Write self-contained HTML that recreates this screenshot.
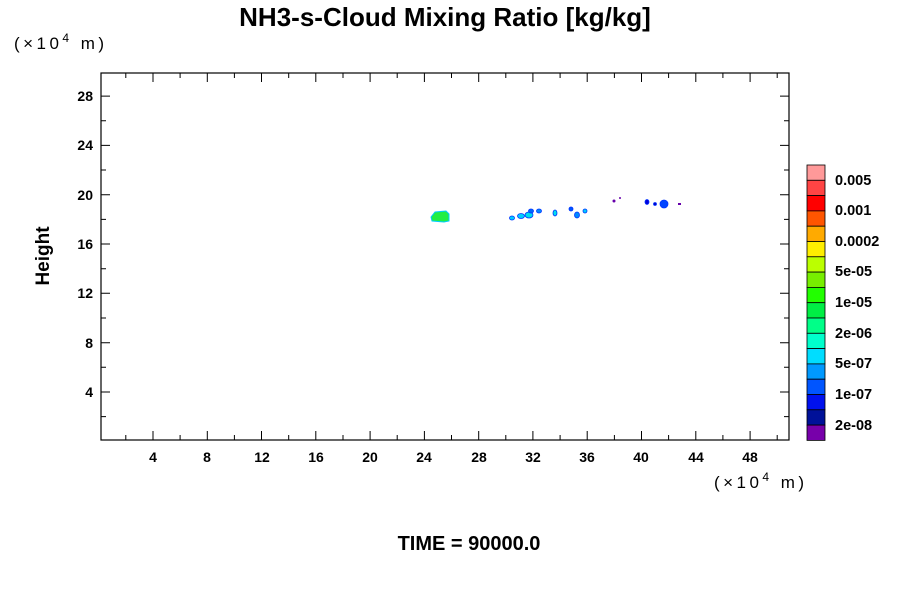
<!DOCTYPE html>
<html><head><style>body{margin:0;background:#fff}</style></head><body>
<svg id="s" width="900" height="600" xmlns="http://www.w3.org/2000/svg" font-family="Liberation Sans, sans-serif">
<rect width="900" height="600" fill="#fff"/>
<text x="445" y="26" text-anchor="middle" font-size="26" font-weight="bold">NH3-s-Cloud Mixing Ratio [kg/kg]</text>
<text x="14" y="49" font-size="17" textLength="90">(×10<tspan dy="-7" font-size="12">4</tspan><tspan dy="7"> m)</tspan></text>
<text x="714" y="488" font-size="17" textLength="90">(×10<tspan dy="-7" font-size="12">4</tspan><tspan dy="7"> m)</tspan></text>
<text x="469" y="550" text-anchor="middle" font-size="20" font-weight="bold">TIME = 90000.0</text>
<text transform="translate(49,256) rotate(-90)" text-anchor="middle" font-size="19" font-weight="bold">Height</text>
<rect x="101" y="73" width="688" height="367" fill="none" stroke="#000" stroke-width="1.2"/>
<g id="ticks" stroke="#000" stroke-width="1"></g>
<g font-size="14" font-weight="bold" text-anchor="end">
<text x="93" y="101">28</text><text x="93" y="150">24</text><text x="93" y="200">20</text><text x="93" y="249">16</text><text x="93" y="298">12</text><text x="93" y="348">8</text><text x="93" y="397">4</text>
</g>
<g font-size="14" font-weight="bold" text-anchor="middle">
<text x="153" y="462">4</text><text x="207" y="462">8</text><text x="262" y="462">12</text><text x="316" y="462">16</text><text x="370" y="462">20</text><text x="424" y="462">24</text><text x="479" y="462">28</text><text x="533" y="462">32</text><text x="587" y="462">36</text><text x="641" y="462">40</text><text x="696" y="462">44</text><text x="750" y="462">48</text>
</g>
<path d="M431,217 L435,212 L446,211 L449,214 L449,221 L444,222 L432,221 Z" fill="#22ee44" stroke="#00ccff" stroke-width="1"/>
<g stroke="#0033ff" stroke-width="0.8">
<ellipse cx="512" cy="218" rx="2.5" ry="2" fill="#00ccff"/>
<ellipse cx="521" cy="216" rx="3.5" ry="2.5" fill="#00ccff"/>
<ellipse cx="529" cy="215" rx="4" ry="3" fill="#00ddee"/>
<ellipse cx="531" cy="211" rx="2.5" ry="2" fill="#0066ff"/>
<ellipse cx="539" cy="211" rx="2.5" ry="2" fill="#0088ff"/>
<ellipse cx="555" cy="213" rx="2" ry="3" fill="#00ddee"/>
<ellipse cx="571" cy="209" rx="2" ry="2" fill="#0055ff"/>
<ellipse cx="577" cy="215" rx="2.5" ry="3" fill="#0088ff"/>
<ellipse cx="585" cy="211" rx="2" ry="2" fill="#00ccff"/>
<ellipse cx="647" cy="202" rx="2" ry="2.5" fill="#0000dd"/>
<ellipse cx="655" cy="204" rx="1.5" ry="1.5" fill="#0000cc"/>
<ellipse cx="664" cy="204" rx="4" ry="4" fill="#0044ff"/>
</g>
<circle cx="614" cy="201" r="1.5" fill="#6600aa"/><circle cx="620" cy="198" r="1" fill="#6600aa"/><rect x="678" y="203" width="3" height="2" fill="#6600aa"/>
<g stroke="#000" stroke-width="0.8">
<rect x="807" y="165" width="18" height="15.3" fill="#ff9999"/>
<rect x="807" y="180.3" width="18" height="15.3" fill="#ff4444"/>
<rect x="807" y="195.6" width="18" height="15.3" fill="#ff0000"/>
<rect x="807" y="210.9" width="18" height="15.3" fill="#ff5500"/>
<rect x="807" y="226.2" width="18" height="15.3" fill="#ffaa00"/>
<rect x="807" y="241.5" width="18" height="15.3" fill="#ffee00"/>
<rect x="807" y="256.8" width="18" height="15.3" fill="#bbff00"/>
<rect x="807" y="272.1" width="18" height="15.3" fill="#77ee00"/>
<rect x="807" y="287.4" width="18" height="15.3" fill="#22ff00"/>
<rect x="807" y="302.7" width="18" height="15.3" fill="#00ee44"/>
<rect x="807" y="318" width="18" height="15.3" fill="#00ff88"/>
<rect x="807" y="333.3" width="18" height="15.3" fill="#00ffcc"/>
<rect x="807" y="348.6" width="18" height="15.3" fill="#00ddff"/>
<rect x="807" y="363.9" width="18" height="15.3" fill="#0099ff"/>
<rect x="807" y="379.2" width="18" height="15.3" fill="#0055ff"/>
<rect x="807" y="394.5" width="18" height="15.3" fill="#0011ee"/>
<rect x="807" y="409.8" width="18" height="15.3" fill="#001199"/>
<rect x="807" y="425.1" width="18" height="15.3" fill="#7700aa"/>
</g>
<g font-size="14.5" font-weight="bold">
<text x="835" y="185">0.005</text><text x="835" y="215">0.001</text><text x="835" y="246">0.0002</text><text x="835" y="276">5e-05</text><text x="835" y="307">1e-05</text><text x="835" y="338">2e-06</text><text x="835" y="368">5e-07</text><text x="835" y="399">1e-07</text><text x="835" y="430">2e-08</text>
</g>
</svg>
<script>
var d="";
for(var i=2;i<=50;i+=2){var x=(98.7+13.57*i).toFixed(1);var L=(i%4==0)?9:5;d+="M"+x+",73v"+L+"M"+x+",440v-"+L;}
for(var j=2;j<=28;j+=2){var y=(441.3-12.33*j).toFixed(1);var L=(j%4==0)?9:5;d+="M101,"+y+"h"+L+"M789,"+y+"h-"+L;}
var p=document.createElementNS("http://www.w3.org/2000/svg","path");p.setAttribute("d",d);document.getElementById("ticks").appendChild(p);
</script>
</body></html>
